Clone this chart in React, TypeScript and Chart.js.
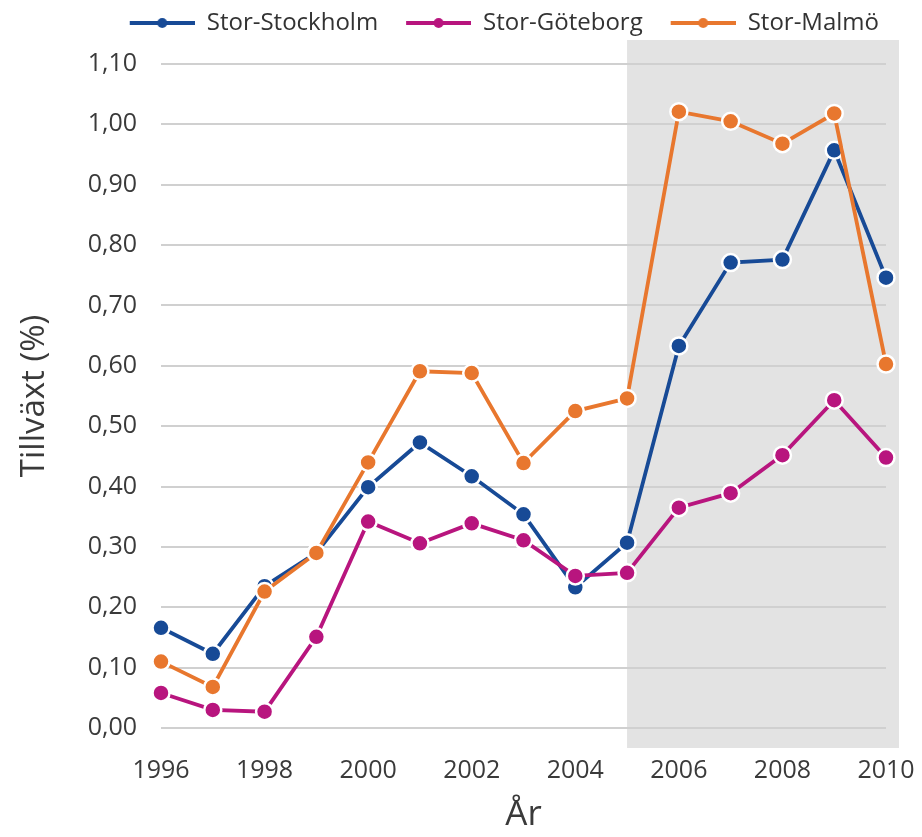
import React, { useEffect, useRef } from "react";
import { Chart, registerables } from "chart.js";

Chart.register(...registerables);

const years = ["1996","1997","1998","1999","2000","2001","2002","2003","2004","2005","2006","2007","2008","2009","2010"];
const stockholm = [0.166, 0.123, 0.235, 0.29, 0.399, 0.473, 0.417, 0.354, 0.233, 0.307, 0.633, 0.771, 0.776, 0.957, 0.746];
const goteborg = [0.058, 0.030, 0.027, 0.151, 0.342, 0.306, 0.339, 0.311, 0.252, 0.257, 0.365, 0.389, 0.452, 0.543, 0.448];
const malmo = [0.110, 0.068, 0.226, 0.29, 0.440, 0.591, 0.588, 0.439, 0.525, 0.546, 1.021, 1.005, 0.968, 1.018, 0.603];
const seriesNames = ["Stor-Stockholm", "Stor-Göteborg", "Stor-Malmö"];
const seriesColors = ["#174a96", "#b8157e", "#e8772e"];
const shadeStartYear = "2005";
const yTitle = "Tillväxt (%)";
const xTitle = "År";

const FONT = "'Open Sans', 'Noto Sans', sans-serif";
const LINE_W = 65;
const SYMBOL_W = 90;

function makeSymbol(color: string): HTMLCanvasElement {
  const c = document.createElement("canvas");
  c.width = SYMBOL_W;
  c.height = 14;
  const ctx = c.getContext("2d")!;
  const x0 = SYMBOL_W - LINE_W;
  ctx.strokeStyle = color;
  ctx.lineWidth = 4;
  ctx.beginPath();
  ctx.moveTo(x0, 7);
  ctx.lineTo(SYMBOL_W, 7);
  ctx.stroke();
  ctx.fillStyle = color;
  ctx.beginPath();
  ctx.arc(x0 + LINE_W / 2, 7, 5, 0, Math.PI * 2);
  ctx.fill();
  return c;
}

const shadePlugin = {
  id: "shade",
  beforeLayout(chart: any) {
    const legend = chart.legend;
    if (legend && !legend.__patched) {
      const origFit = legend.fit;
      legend.fit = function (this: any) {
        const mw = this.maxWidth;
        this.maxWidth = mw + 200;
        origFit.call(this);
        this.maxWidth = mw;
        this.width = mw;
        this.height += 19;
      };
      const origDraw = legend.draw;
      legend.draw = function (this: any, ...args: any[]) {
        const r = this.right;
        const l = this.left;
        this.right = r - 4;
        this.left = l - 60;
        origDraw.apply(this, args);
        this.right = r;
        this.left = l;
      };
      legend.__patched = true;
    }
  },
  beforeDraw(chart: any) {
    const { ctx, chartArea, scales } = chart;
    const x = scales.x;
    const idx = years.indexOf(shadeStartYear);
    const x1 = x.getPixelForValue(idx);
    const x2 = chartArea.right + 13;
    const y1 = chartArea.top - 24;
    const y2 = chartArea.bottom + 20;
    ctx.save();
    ctx.fillStyle = "#e3e3e3";
    ctx.fillRect(x1, y1, x2 - x1, y2 - y1);
    ctx.restore();
  },
};

export default function App() {
  const ref = useRef<HTMLCanvasElement | null>(null);
  useEffect(() => {
    if (!ref.current) return;
    const values = [stockholm, goteborg, malmo];
    const orders = [2, 0, 1];
    const symbols = seriesColors.map(makeSymbol);
    const chart = new Chart(ref.current, {
      type: "line",
      data: {
        labels: years,
        datasets: values.map((v, i) => ({
          label: seriesNames[i],
          data: v,
          borderColor: seriesColors[i],
          backgroundColor: seriesColors[i],
          pointBackgroundColor: seriesColors[i],
          pointBorderColor: "#ffffff",
          pointBorderWidth: 2.5,
          pointRadius: 8.5,
          borderWidth: 3.8,
          tension: 0,
          order: orders[i],
        })),
      },
      options: {
        responsive: false,
        animation: false,
        layout: { padding: { top: 0, right: 28, left: 0, bottom: 0 } },
        plugins: {
          tooltip: { enabled: false },
          legend: {
            position: "top",
            align: "end",
            fullSize: false,
            labels: {
              usePointStyle: true,
              pointStyleWidth: SYMBOL_W,
              padding: 3,
              color: "#333333",
              font: { family: FONT, size: 24 },
              generateLabels: () =>
                seriesNames.map((n, i) => ({
                  text: n,
                  pointStyle: symbols[i],
                  fillStyle: seriesColors[i],
                  strokeStyle: seriesColors[i],
                  lineWidth: 0,
                  hidden: false,
                  datasetIndex: i,
                  fontColor: "#333333",
                })),
            },
          },
        },
        scales: {
          x: {
            type: "category",
            offset: false,
            grid: { display: false, drawTicks: false },
            border: { display: false },
            ticks: {
              autoSkip: false,
              maxRotation: 0,
              padding: 28,
              color: "#3a3a3a",
              font: { family: FONT, size: 25 },
              callback: (_v: any, i: number) => (i % 2 === 0 ? years[i] : ""),
            },
            title: {
              display: true,
              text: xTitle,
              color: "#3a3a3a",
              font: { family: FONT, size: 35, lineHeight: 1.0 },
              padding: { top: 0, bottom: -4 },
            },
            afterFit: (s: any) => {
              s.height = 101;
              s.paddingRight = 0;
              s.paddingLeft = 0;
            },
          },
          y: {
            min: 0,
            max: 1.1,
            grid: { color: "#d0d0d0", lineWidth: 2, drawTicks: false },
            border: { display: false },
            ticks: {
              stepSize: 0.1,
              padding: 24,
              color: "#3a3a3a",
              font: { family: FONT, size: 25 },
              callback: (v: any) => Number(v).toFixed(2).replace(".", ","),
            },
            title: {
              display: true,
              text: yTitle,
              color: "#3a3a3a",
              font: { family: FONT, size: 33 },
              padding: { top: 7, bottom: 0 },
            },
            afterFit: (s: any) => {
              s.width = 153;
            },
          },
        },
      },
      plugins: [shadePlugin],
    });
    return () => chart.destroy();
  }, []);
  return <canvas ref={ref} width={906} height={821} style={{ display: "block" }} />;
}
